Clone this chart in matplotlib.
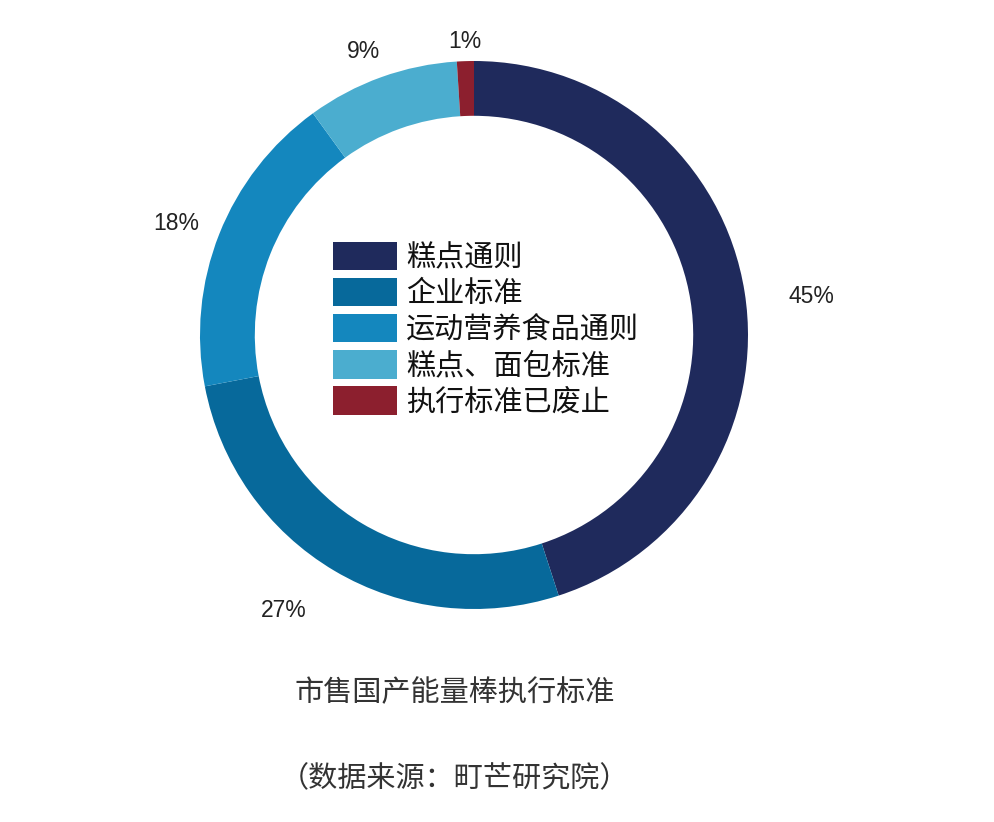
import matplotlib
matplotlib.use("Agg")
import matplotlib.pyplot as plt
import numpy as np

plt.rcParams['font.family'] = ['Noto Sans CJK SC', 'DejaVu Sans']

categories = ["糕点通则", "企业标准", "运动营养食品通则", "糕点、面包标准", "执行标准已废止"]
values = [45, 27, 18, 9, 1]
pct_labels = ["45%", "27%", "18%", "9%", "1%"]
colors = ["#1F2A5C", "#07699B", "#1487BE", "#4BADCF", "#8C1F2E"]
title = "市售国产能量棒执行标准"
source = "（数据来源：町芒研究院）"

W, H = 994, 822
fig = plt.figure(figsize=(W / 100, H / 100), dpi=100)
ax = fig.add_axes([0, 0, 1, 1])
cx, cy, R = 474, H - 335, 274

wedges, _ = ax.pie(values, colors=colors, startangle=90, counterclock=False,
                   radius=R, center=(cx, cy),
                   wedgeprops=dict(width=R * 0.2, edgecolor='none'))
ax.set_xlim(0, W)
ax.set_ylim(0, H)
ax.set_aspect('equal')
ax.axis('off')

dists = [1.24, 1.22, 1.16, 1.11, 1.07]
offs = [-2.5, -4.0, 1.0, 1.5, 0.0]
for w, lab, d, o in zip(wedges, pct_labels, dists, offs):
    th = np.deg2rad((w.theta1 + w.theta2) / 2 + o)
    ax.text(cx + R * d * np.cos(th), cy + R * d * np.sin(th), lab,
            ha='center', va='center', fontsize=16.5, color='#222222',
            family=['Liberation Sans', 'DejaVu Sans'])

leg = ax.legend(wedges, categories, loc='upper left',
                bbox_to_anchor=(333 / W, 1 - 242 / H), bbox_transform=fig.transFigure,
                frameon=False, fontsize=21, handlelength=2.2, handleheight=1.12,
                handletextpad=0.3, labelspacing=0.17, borderpad=0, borderaxespad=0)
for t in leg.get_texts():
    t.set_color('#111111')

fig.text(455 / W, 1 - 693 / H, title, ha='center', va='center', fontsize=21, color='#333333')
fig.text(455 / W, 1 - 779 / H, source, ha='center', va='center', fontsize=21, color='#333333')

fig.savefig("out.png", dpi=100)
